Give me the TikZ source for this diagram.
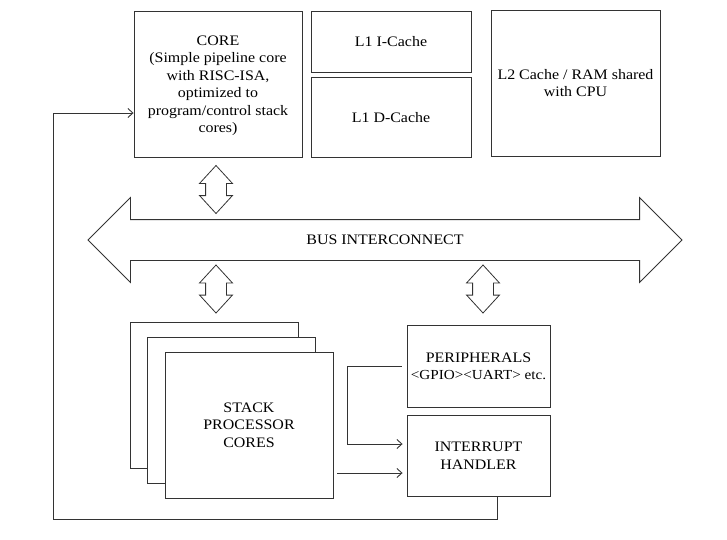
\documentclass[tikz,border=0pt]{standalone}
\usepackage{fontspec}
\setmainfont{Liberation Serif}[FakeStretch=1.1]
\usetikzlibrary{positioning,shapes.arrows,arrows.meta}

\begin{document}
\begin{tikzpicture}[x=1pt,y=-1pt]
  \useasboundingbox (0,0) rectangle (727,539);
  \tikzstyle{block}=[draw=black!80, line width=0.9pt, fill=white, align=center, inner sep=2pt, text depth=0pt, font=\fontsize{14.5}{17.5}\selectfont];
  \tikzstyle{biarrow}=[draw=black!80, line width=0.8pt, shape=double arrow, double arrow head extend=6pt, double arrow tip angle=85, inner xsep=0pt, inner ysep=10pt, minimum height=48pt, rotate=90];
  \tikzstyle{link}=[draw=black!80, line width=0.9pt, -{Straight Barb[length=5pt,width=9pt]}];
  % top row
  \node[block, minimum width=168pt, minimum height=146pt] (core) at (218,84) {CORE\\(Simple pipeline core\\with RISC-ISA,\\optimized to\\program/control stack\\cores)};
  \node[block, minimum width=160pt, minimum height=61pt] (icache) at (391,41.5) {L1 I-Cache};
  \node[block, minimum width=160pt, minimum height=80pt] (dcache) at (391,117) {L1 D-Cache};
  \node[block, minimum width=169pt, minimum height=146pt] (ltwo) at (575.5,83) {L2 Cache / RAM shared\\with CPU};
  % bus
  \node[draw=black!80, line width=0.8pt, shape=double arrow, double arrow head extend=22pt, double arrow tip angle=90, inner xsep=0pt, inner ysep=20pt, minimum height=594pt, label={[font=\fontsize{14.5}{17.5}\selectfont]center:BUS INTERCONNECT}] (bus) at (385,240) {};
  \foreach \n/\x/\y in {corebus/216/189.5, stackbus/216/289, periphbus/483/289}{
    \node[biarrow] (\n) at (\x,\y) {};
  }
  % stack cores
  \foreach \n/\x/\y in {back/214/395, mid/231/410}{
    \node[block, minimum width=168pt, minimum height=146pt] (\n) at (\x,\y) {};
  }
  \node[block, minimum width=168pt, minimum height=146pt] (front) at (249,425) {STACK\\PROCESSOR\\CORES};
  % peripherals and interrupts
  \node[block, minimum width=143pt, minimum height=82pt] (periph) at (478.5,366) {PERIPHERALS\\{\fontsize{13.8}{17.5}\selectfont{<}GPIO{>}{<}UART{>} etc.}};
  \node[block, minimum width=143pt, minimum height=81pt] (intr) at (478.5,455.5) {INTERRUPT\\HANDLER};
  \coordinate (irqin) at ([yshift=-17.5pt]intr.west);
  \coordinate (stackout) at (front.east |- irqin);
  \coordinate (loop) at (53,519);
  \draw[link, shorten >=4pt] ([xshift=-5pt]periph.west) -- ++(-54,0) |- ([yshift=11.5pt]intr.west);
  \draw[link, shorten >=4pt] ([xshift=4pt]stackout) -- (irqin);
  \draw[link] ([xshift=18.5pt]intr.south) |- (loop) |- ([yshift=-29pt]core.west);
\end{tikzpicture}
\end{document}
